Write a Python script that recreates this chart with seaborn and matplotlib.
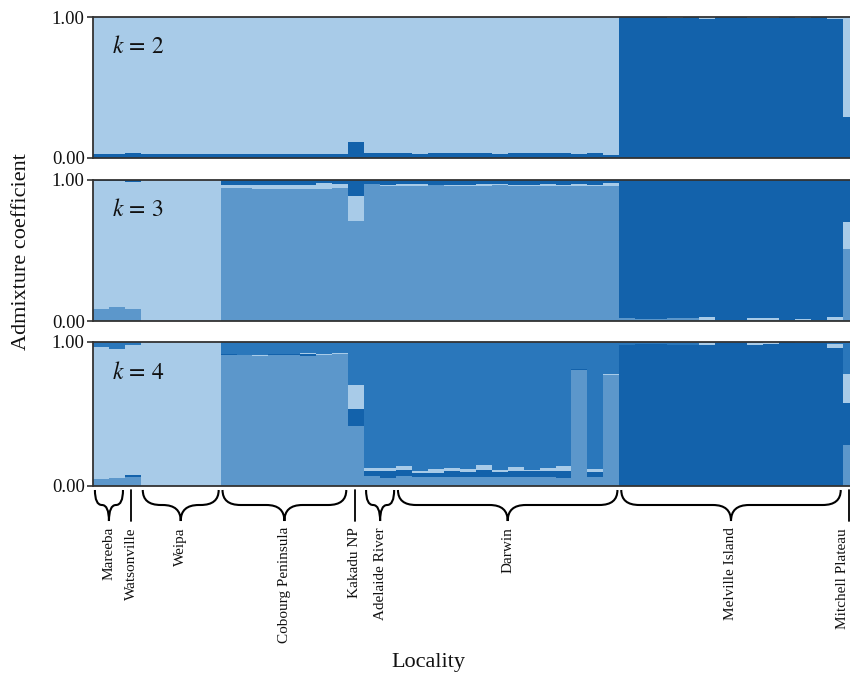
import numpy as np
import pandas as pd
import matplotlib
matplotlib.use("Agg")
import matplotlib.pyplot as plt
import matplotlib.transforms as mtransforms
from matplotlib.path import Path
from matplotlib.patches import PathPatch
import seaborn as sns

# ---------------------------------------------------------------- data
localities = ["Mareeba", "Watsonville", "Weipa", "Cobourg Peninsula", "Kakadu NP",
              "Adelaide River", "Darwin", "Melville Island", "Mitchell Plateau"]
samples_per_locality = [2, 1, 5, 8, 1, 2, 14, 14, 1]

# K = 2 : cluster A (bottom), cluster B fills the rest
k2_a = [0.028, 0.028, 0.036,
        0.028, 0.028, 0.028, 0.028, 0.028,
        0.028, 0.028, 0.028, 0.028, 0.028, 0.028, 0.028, 0.028,
        0.115,
        0.036, 0.036,
        0.036, 0.028, 0.036, 0.036, 0.036, 0.036, 0.028, 0.036, 0.036, 0.036, 0.036, 0.028, 0.036, 0.022,
        1.0, 1.0, 1.0, 0.99, 1.0, 0.985, 1.0, 1.0, 0.99, 0.99, 1.0, 0.99, 1.0, 0.985,
        0.29]

# K = 3 : clusters A (bottom), B (middle); cluster C fills the rest
k3_a = [0.085, 0.10, 0.085,
        0.0, 0.0, 0.0, 0.0, 0.0,
        0.943, 0.943, 0.936, 0.936, 0.936, 0.936, 0.936, 0.943,
        0.71,
        0.972, 0.957,
        0.955, 0.96, 0.962, 0.96, 0.958, 0.955, 0.962, 0.96, 0.955, 0.958, 0.96, 0.955, 0.96, 0.957,
        0.02, 0.015, 0.015, 0.02, 0.02, 0.01, 0.005, 0.005, 0.005, 0.005, 0.005, 0.005, 0.005, 0.01,
        0.51]
k3_b = [0.905, 0.895, 0.903,
        1.0, 1.0, 1.0, 1.0, 1.0,
        0.022, 0.022, 0.029, 0.029, 0.029, 0.029, 0.045, 0.029,
        0.18,
        0.0, 0.008,
        0.015, 0.012, 0.005, 0.005, 0.008, 0.015, 0.012, 0.005, 0.008, 0.015, 0.005, 0.018, 0.008, 0.021,
        0.0, 0.0, 0.0, 0.0, 0.0, 0.015, 0.0, 0.0, 0.015, 0.015, 0.0, 0.008, 0.0, 0.02,
        0.19]

# K = 4 : clusters A, B, C from the bottom; cluster D fills the rest
k4_a = [0.046, 0.055, 0.063,
        0.0, 0.0, 0.0, 0.0, 0.0,
        0.91, 0.91, 0.903, 0.91, 0.91, 0.903, 0.91, 0.917,
        0.417,
        0.072, 0.058,
        0.072, 0.065, 0.065, 0.065, 0.065, 0.065, 0.065, 0.065, 0.065, 0.065, 0.058, 0.808, 0.065, 0.771,
        0.0, 0.0, 0.0, 0.0, 0.0, 0.0, 0.0, 0.0, 0.0, 0.0, 0.0, 0.0, 0.0, 0.0,
        0.285]
k4_b = [0.004, 0.0, 0.013,
        0.0, 0.0, 0.0, 0.0, 0.0,
        0.007, 0.0, 0.0, 0.007, 0.007, 0.014, 0.0, 0.0,
        0.118,
        0.034, 0.048,
        0.041, 0.027, 0.027, 0.041, 0.035, 0.048, 0.035, 0.041, 0.041, 0.041, 0.048, 0.005, 0.035, 0.0,
        0.979, 0.986, 0.986, 0.979, 0.979, 0.978, 0.995, 0.995, 0.979, 0.986, 1.0, 0.995, 1.0, 0.96,
        0.291]
k4_c = [0.913, 0.895, 0.904,
        1.0, 1.0, 1.0, 1.0, 1.0,
        0.0, 0.0, 0.007, 0.0, 0.0, 0.007, 0.007, 0.007,
        0.165,
        0.021, 0.021,
        0.028, 0.014, 0.028, 0.021, 0.02, 0.035, 0.013, 0.028, 0.007, 0.021, 0.035, 0.0, 0.02, 0.005,
        0.0, 0.0, 0.0, 0.0, 0.0, 0.015, 0.0, 0.0, 0.015, 0.014, 0.0, 0.0, 0.0, 0.025,
        0.202]

# ---------------------------------------------------------------- style
LIGHT = "#a8cbe8"
MEDIUM = "#5c97cb"
MIDDARK = "#2a77bb"
DARK = "#1362ab"
SPINE = "#333333"

sns.set_theme(style="ticks")
plt.rcParams["font.family"] = ["Liberation Serif", "DejaVu Serif"]
plt.rcParams["mathtext.fontset"] = "stix"

panels = [
    (2, [k2_a], [DARK, LIGHT]),
    (3, [k3_a, k3_b], [MEDIUM, LIGHT, DARK]),
    (4, [k4_a, k4_b, k4_c], [MEDIUM, DARK, LIGHT, MIDDARK]),
]

n_ind = sum(samples_per_locality)
ind = np.arange(n_ind)

W, H = 850, 676
fig = plt.figure(figsize=(W / 100, H / 100), dpi=100)

left_px = 93
bar_px = 15.95
panel_px = [(17, 158), (180, 321), (342, 486)]

axes = []
for (top, bot) in panel_px:
    ax = fig.add_axes([left_px / W, 1 - bot / H, n_ind * bar_px / W, (bot - top) / H])
    axes.append(ax)


def draw_structure(ax, k, explicit, colors):
    q = np.array(explicit, dtype=float)
    rest = np.clip(1.0 - q.sum(axis=0), 0, None)
    q = np.vstack([q, rest])
    cum = np.cumsum(q, axis=0)
    # draw cumulative heights from the top cluster down so each layer shows its share
    for layer in range(k - 1, -1, -1):
        df = pd.DataFrame({"individual": ind, "q": cum[layer]})
        sns.barplot(data=df, x="individual", y="q", color=colors[layer], width=1.0,
                    saturation=1, errorbar=None, linewidth=0, ax=ax)


for ax, (k, explicit, colors) in zip(axes, panels):
    draw_structure(ax, k, explicit, colors)
    ax.set_xlim(-0.5, n_ind - 0.5)
    ax.set_ylim(0, 1)
    ax.set_xlabel("")
    ax.set_ylabel("")
    ax.set_xticks([])
    ax.set_yticks([0, 1])
    ax.set_yticklabels(["0.00", "1.00"])
    ax.tick_params(axis="y", length=4, width=1.2, color=SPINE, labelsize=13.5, pad=2,
                   labelcolor="#111111")
    for s in ax.spines.values():
        s.set_visible(True)
        s.set_color(SPINE)
        s.set_linewidth(1.3)
    ax.text(0.025, 0.785, rf"$k\,=\,{k}$", transform=ax.transAxes, fontsize=17,
            va="center", ha="left", color="#111111")

# ---------------------------------------------------------------- locality braces
bottom_ax = axes[-1]
trans = mtransforms.blended_transform_factory(bottom_ax.transData, bottom_ax.transAxes)
ax_h_px = panel_px[2][1] - panel_px[2][0]
y_top = -4 / ax_h_px
y_mid = -19 / ax_h_px
y_tip = -35 / ax_h_px
y_text = -41 / ax_h_px


def brace(ax, x0, x1):
    xc = (x0 + x1) / 2
    r = min(18 / bar_px, (x1 - x0) / 4)
    verts = [(x0, y_top), (x0, y_mid), (x0 + r, y_mid), (xc - r, y_mid),
             (xc, y_mid), (xc, y_tip), (xc, y_mid), (xc + r, y_mid),
             (x1 - r, y_mid), (x1, y_mid), (x1, y_top)]
    codes = [Path.MOVETO, Path.CURVE3, Path.CURVE3, Path.LINETO,
             Path.CURVE3, Path.CURVE3, Path.CURVE3, Path.CURVE3,
             Path.LINETO, Path.CURVE3, Path.CURVE3]
    patch = PathPatch(Path(verts, codes), facecolor="none", edgecolor="black",
                      linewidth=1.5, transform=trans, clip_on=False)
    ax.add_patch(patch)


start = 0
for i, (name, n) in enumerate(zip(localities, samples_per_locality)):
    x0 = start - 0.5
    x1 = start + n - 0.5
    xc = (x0 + x1) / 2
    if n > 1:
        brace(bottom_ax, x0 + 0.12, x1 - 0.12)
    else:
        xc = xc - 0.1
        bottom_ax.plot([xc, xc], [y_top, y_tip], color="black", linewidth=1.3,
                       transform=trans, clip_on=False)
    if i == len(localities) - 1:
        # keep the last rotated label inside the right edge of the figure
        fig.text(849 / W, 1 - 528 / H, name, rotation=90, ha="right", va="top",
                 fontsize=11, color="#111111")
    else:
        bottom_ax.text(xc, y_text, name, rotation=90, ha="center", va="top", fontsize=11,
                       transform=trans, color="#111111")
    start += n

fig.text(22 / W, 1 - 252 / H, "Admixture coefficient", rotation=90, ha="center",
         va="center", fontsize=16, color="#111111")
fig.text(428 / W, 1 - 662 / H, "Locality", ha="center", va="center", fontsize=16,
         color="#111111")

fig.savefig("out.png", dpi=100)
